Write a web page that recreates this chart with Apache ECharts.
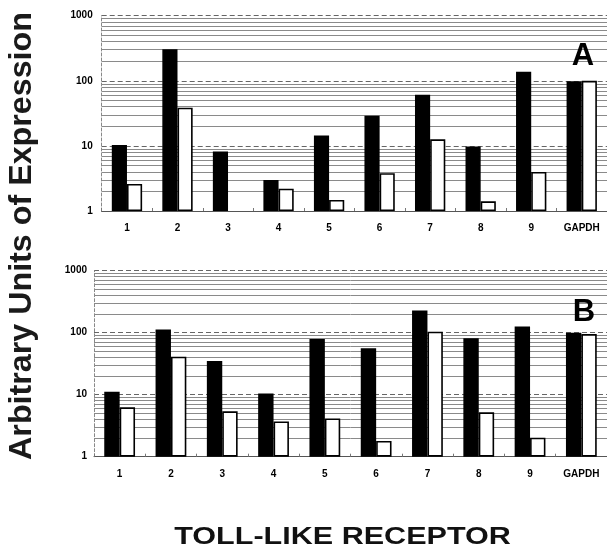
<!DOCTYPE html>
<html>
<head>
<meta charset="utf-8">
<script src="https://cdn.jsdelivr.net/npm/echarts@6/dist/echarts.min.js"></script>
<style>html,body{margin:0;padding:0;background:#fff}#c{width:607px;height:555px}</style>
</head>
<body>
<div id="c"></div>
<script>
var categories = ['1','2','3','4','5','6','7','8','9','GAPDH'];
var panelA_black = [10.3, 304, 8.2, 3.0, 14.4, 29, 61, 9.8, 138, 98];
var panelA_white = [2.6, 38.7, null, 2.2, 1.48, 3.8, 12.6, 1.41, 3.97, 100];
var panelB_black = [11.2, 113, 35, 10.5, 79, 56, 229, 81, 126, 100];
var panelB_white = [6.25, 41, 5.4, 3.7, 4.15, 1.79, 104, 5.2, 2.03, 95];
var minorGridValues = [2,3,4,5,6,7,8,9,20,30,40,50,60,70,80,90,200,300,400,500,600,700,800,900];
var yTickLabels = ['1','10','100','1000'];

var FONT = '"Liberation Sans", Arial, sans-serif';

function xAxis(gi, margin) {
  return {
    type: 'category', gridIndex: gi, data: categories,
    axisLine: {show: true, lineStyle: {color: '#555', width: 1}},
    axisTick: {show: true, inside: true, length: 3, interval: 0, lineStyle: {color: '#777'}},
    axisLabel: {interval: 0, margin: margin, fontSize: 10, fontWeight: 'bold', fontFamily: FONT, color: '#000'},
    splitLine: {show: false}
  };
}
function yAxis(gi, margin) {
  return {
    type: 'log', logBase: 10, gridIndex: gi, min: 1, max: 1000,
    axisLine: {show: true, lineStyle: {color: '#888', width: 1, type: [3, 2]}},
    axisTick: {show: false},
    axisLabel: {margin: margin, fontSize: 10, fontWeight: 'bold', fontFamily: FONT, color: '#000',
      formatter: function (v) { var i = Math.round(Math.log10(v)); return yTickLabels[i] !== undefined ? yTickLabels[i] : ''; }},
    splitLine: {show: true, lineStyle: {color: '#666', width: 1, type: [5, 3]}},
    minorTick: {show: false}, minorSplitLine: {show: false}
  };
}
function gridLines(xi, yi) {
  return {
    type: 'line', xAxisIndex: xi, yAxisIndex: yi, data: [], z: 1, silent: true,
    markLine: {
      silent: true, symbol: 'none', label: {show: false}, z: 1,
      lineStyle: {color: '#8a8a8a', width: 1, type: 'solid'},
      emphasis: {disabled: true},
      data: minorGridValues.map(function (v) { return {yAxis: v}; })
    }
  };
}
function bars(xi, yi, data, white) {
  return {
    type: 'bar', xAxisIndex: xi, yAxisIndex: yi, data: data, z: 3,
    barGap: '0%', barCategoryGap: '40%',
    itemStyle: {color: white ? '#fff' : '#000', borderColor: '#000', borderWidth: 1.6},
    emphasis: {disabled: true}
  };
}

var chart = echarts.init(document.getElementById('c'), null, {renderer: 'canvas'});
chart.setOption({
  animation: false,
  backgroundColor: '#fff',
  grid: [
    {left: 101.7, top: 15.7, width: 507, height: 195.3},
    {left: 94, top: 270.7, width: 517, height: 186}
  ],
  xAxis: [xAxis(0, 12), xAxis(1, 13)],
  yAxis: [yAxis(0, 9), yAxis(1, 7)],
  series: [
    gridLines(0, 0), gridLines(1, 1),
    bars(0, 0, panelA_black, false), bars(0, 0, panelA_white, true),
    bars(1, 1, panelB_black, false), bars(1, 1, panelB_white, true)
  ],
  graphic: [
    {type: 'text', x: 22.5, y: 236, rotation: Math.PI / 2, scaleX: 1.04,
      style: {text: 'Arbitrary Units of Expression', fontSize: 31, fontWeight: 'bold', fontFamily: FONT, fill: '#1a1a1a',
        align: 'center', verticalAlign: 'middle', textAlign: 'center', textVerticalAlign: 'middle'}},
    {type: 'text', x: 342.5, y: 538, scaleX: 1.3,
      style: {text: 'TOLL-LIKE RECEPTOR', fontSize: 23.5, fontWeight: 'bold', fontFamily: FONT, fill: '#111',
        align: 'center', verticalAlign: 'middle', textAlign: 'center', textVerticalAlign: 'middle'}},
    {type: 'text', x: 583, y: 56, z: 10,
      style: {text: 'A', fontSize: 31, fontWeight: 'bold', fontFamily: FONT, fill: '#000',
        align: 'center', verticalAlign: 'middle', textAlign: 'center', textVerticalAlign: 'middle'}},
    {type: 'text', x: 584, y: 312, z: 10,
      style: {text: 'B', fontSize: 31, fontWeight: 'bold', fontFamily: FONT, fill: '#000',
        align: 'center', verticalAlign: 'middle', textAlign: 'center', textVerticalAlign: 'middle'}}
  ]
});
</script>
</body>
</html>
